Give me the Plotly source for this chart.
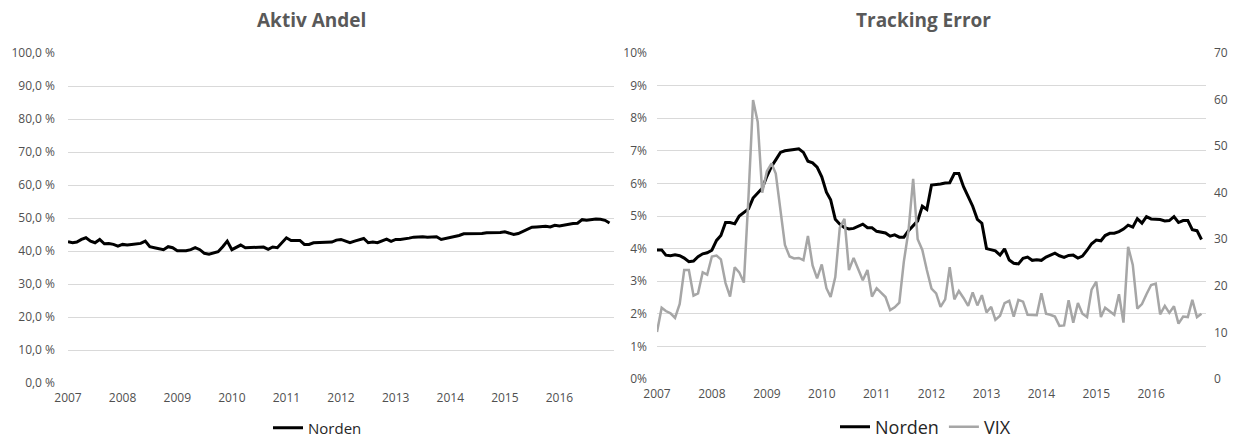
import pandas as pd
import plotly.graph_objects as go

months = pd.date_range("2007-01-01", "2016-12-01", freq="MS")

aktiv_andel = [
    42.8, 42.5, 42.7, 43.5, 44.0, 43.0, 42.5, 43.5, 42.2, 42.3, 42.0, 41.5,
    42.0, 41.8, 42.0, 42.2, 42.3, 43.0, 41.3, 41.0, 40.7, 40.4, 41.3, 41.0,
    40.1, 40.0, 40.1, 40.4, 41.0, 40.4, 39.3, 39.0, 39.4, 39.8, 41.3, 43.0,
    40.4, 41.2, 41.8, 41.0, 41.0, 41.0, 41.0, 41.2, 40.5, 41.2, 41.0, 42.5,
    44.0, 43.2, 43.3, 43.2, 42.0, 42.0, 42.5, 42.5, 42.5, 42.5, 42.7, 43.3,
    43.5, 43.0, 42.5, 43.0, 43.4, 43.8, 42.5, 42.7, 42.5, 43.0, 43.6, 42.9,
    43.5, 43.5, 43.6, 43.9, 44.2, 44.3, 44.3, 44.2, 44.2, 44.3, 43.5, 43.8,
    44.0, 44.5, 44.7, 45.2, 45.2, 45.2, 45.2, 45.3, 45.5, 45.5, 45.5, 45.6,
    45.8, 45.5, 45.0, 45.3, 46.0, 46.5, 47.2, 47.3, 47.5, 47.5, 47.3, 47.8,
    47.6, 47.9, 48.0, 48.3, 48.4, 49.5, 49.3, 49.6, 49.7, 49.6, 49.3, 48.5,
]

tracking_error = [
    3.96, 3.96, 3.80, 3.78, 3.81, 3.78, 3.71, 3.60, 3.62, 3.75, 3.84, 3.87,
    3.95, 4.25, 4.40, 4.80, 4.80, 4.76, 5.00, 5.12, 5.22, 5.55, 5.72, 5.85,
    6.22, 6.52, 6.72, 6.95, 7.00, 7.03, 7.04, 7.06, 6.95, 6.68, 6.63, 6.50,
    6.20, 5.73, 5.50, 4.90, 4.75, 4.64, 4.60, 4.62, 4.68, 4.75, 4.64, 4.64,
    4.53, 4.51, 4.48, 4.38, 4.42, 4.35, 4.35, 4.55, 4.72, 4.85, 5.30, 5.20,
    5.95, 5.96, 5.98, 6.01, 6.02, 6.30, 6.30, 5.90, 5.60, 5.30, 4.90, 4.78,
    4.00, 3.96, 3.93, 3.80, 3.99, 3.65, 3.55, 3.53, 3.70, 3.74, 3.64, 3.66,
    3.64, 3.74, 3.80, 3.86, 3.78, 3.73, 3.79, 3.80, 3.71, 3.77, 3.95, 4.15,
    4.26, 4.24, 4.40, 4.47, 4.47, 4.52, 4.60, 4.72, 4.66, 4.92, 4.78, 4.98,
    4.91, 4.90, 4.89, 4.85, 4.86, 4.98, 4.80, 4.86, 4.86, 4.58, 4.55, 4.28,
]

vix = [
    10.1, 15.3, 14.6, 14.1, 13.1, 16.1, 23.4, 23.4, 17.9, 18.4, 22.9, 22.4,
    26.3, 26.5, 25.7, 20.6, 17.7, 24.0, 22.9, 20.7, 39.4, 59.9, 55.2, 40.0,
    44.6, 46.3, 44.1, 36.8, 28.8, 26.3, 25.9, 26.0, 25.5, 30.7, 24.4, 21.6,
    24.6, 19.5, 17.6, 21.9, 32.5, 34.4, 23.4, 26.0, 23.6, 21.2, 23.4, 17.7,
    19.5, 18.4, 17.6, 14.8, 15.4, 16.4, 25.2, 31.8, 43.0, 30.0, 27.7, 23.4,
    19.4, 18.4, 15.5, 17.1, 24.0, 17.1, 18.9, 17.4, 15.7, 18.6, 15.8, 18.0,
    14.3, 15.5, 12.7, 13.6, 16.3, 16.8, 13.4, 17.0, 16.6, 13.8, 13.7, 13.7,
    18.4, 14.0, 13.8, 13.4, 11.4, 11.5, 16.9, 12.1, 16.3, 14.0, 13.3, 19.2,
    20.9, 13.3, 15.3, 14.5, 13.8, 18.2, 12.1, 28.4, 24.5, 15.1, 16.1, 18.2,
    20.2, 20.5, 13.9, 15.7, 14.2, 15.6, 11.9, 13.4, 13.3, 17.0, 13.3, 14.0,
]

left_ticks = [0, 10, 20, 30, 40, 50, 60, 70, 80, 90, 100]
left_labels = ["0,0 %", "10,0 %", "20,0 %", "30,0 %", "40,0 %", "50,0 %",
               "60,0 %", "70,0 %", "80,0 %", "90,0 %", "100,0 %"]
right_ticks = [0, 1, 2, 3, 4, 5, 6, 7, 8, 9, 10]
right_labels = ["0%", "1%", "2%", "3%", "4%", "5%", "6%", "7%", "8%", "9%", "10%"]
vix_ticks = [0, 10, 20, 30, 40, 50, 60, 70]

W, H = 1233, 438
FONT = "Open Sans, Liberation Sans, sans-serif"
TICK_COLOR = "#505050"
GRID = "#d9d9d9"

fig = go.Figure()
fig.add_trace(go.Scatter(x=months, y=aktiv_andel, name="Norden", mode="lines",
                         line=dict(color="#000000", width=3),
                         xaxis="x", yaxis="y", legend="legend"))
fig.add_trace(go.Scatter(x=months, y=tracking_error, name="Norden", mode="lines",
                         line=dict(color="#000000", width=3),
                         xaxis="x2", yaxis="y2", legend="legend2"))
fig.add_trace(go.Scatter(x=months, y=vix, name="VIX", mode="lines",
                         line=dict(color="#a6a6a6", width=2.5),
                         xaxis="x2", yaxis="y3", legend="legend2"))

xcommon = dict(type="date", range=["2007-01-01", "2016-12-31"], tick0="2007-01-01",
               dtick="M12", tickformat="%Y", showgrid=False, zeroline=False,
               showline=False, ticks="", ticklabelstandoff=6, automargin=False,
               tickfont=dict(family=FONT, size=12, color=TICK_COLOR),
               fixedrange=True)

fig.update_layout(
    width=W, height=H,
    margin=dict(l=0, r=0, t=0, b=0, autoexpand=False),
    paper_bgcolor="white", plot_bgcolor="white",
    font=dict(family=FONT, color=TICK_COLOR),
    xaxis=dict(domain=[68 / W, 614 / W], anchor="y", **xcommon),
    yaxis=dict(domain=[1 - 383 / H, 1 - 53 / H], anchor="x", range=[0, 100],
               tickmode="array", tickvals=left_ticks, ticktext=left_labels,
               showgrid=True, gridcolor=GRID, gridwidth=1, zeroline=False,
               ticks="", ticklabelstandoff=12, automargin=False,
               tickfont=dict(family=FONT, size=12, color=TICK_COLOR)),
    xaxis2=dict(domain=[657 / W, 1206 / W], anchor="y2", **xcommon),
    yaxis2=dict(domain=[1 - 379 / H, 1 - 53 / H], anchor="x2", range=[0, 10],
                tickmode="array", tickvals=right_ticks, ticktext=right_labels,
                showgrid=True, gridcolor=GRID, gridwidth=1, zeroline=False,
                ticks="", ticklabelstandoff=9, automargin=False,
                tickfont=dict(family=FONT, size=12, color=TICK_COLOR)),
    yaxis3=dict(overlaying="y2", side="right", anchor="x2", range=[0, 70],
                tickmode="array", tickvals=vix_ticks, showgrid=False, zeroline=False,
                ticks="", ticklabelstandoff=7, automargin=False,
                tickfont=dict(family=FONT, size=12, color=TICK_COLOR)),
    legend=dict(orientation="h", x=268 / W, y=1 - 428 / H, xanchor="left", yanchor="middle",
                font=dict(family=FONT, size=15, color="#262626"), bgcolor="rgba(0,0,0,0)"),
    legend2=dict(orientation="h", x=835 / W, y=1 - 427 / H, xanchor="left", yanchor="middle",
                 font=dict(family=FONT, size=18, color="#262626"), bgcolor="rgba(0,0,0,0)",
                 itemwidth=30),
    annotations=[
        dict(text="<b>Aktiv Andel</b>", x=311 / W, y=1 - 20 / H, xref="paper", yref="paper",
             showarrow=False, xanchor="center", yanchor="middle",
             font=dict(family=FONT, size=19, color="#595959")),
        dict(text="<b>Tracking Error</b>", x=923 / W, y=1 - 20 / H, xref="paper", yref="paper",
             showarrow=False, xanchor="center", yanchor="middle",
             font=dict(family=FONT, size=19, color="#595959")),
    ],
    showlegend=True,
)

fig.write_html(
    "out.html",
    config={"displayModeBar": False},
    post_script="document.body.style.margin='0';document.body.style.overflow='hidden';",
)
